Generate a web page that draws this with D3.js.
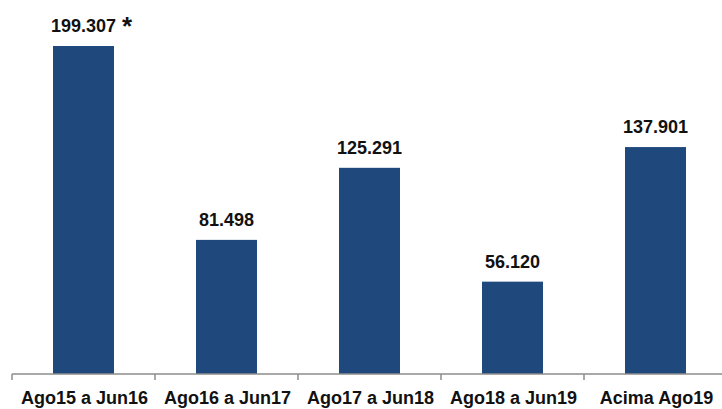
<!DOCTYPE html>
<html>
<head>
<meta charset="utf-8">
<script src="https://cdn.jsdelivr.net/npm/d3@7"></script>
<style>
  body { margin: 0; background: #fff; }
  svg { display: block; }
</style>
</head>
<body>
<div id="chart"></div>
<script>
// chart data
const categories = ["Ago15 a Jun16", "Ago16 a Jun17", "Ago17 a Jun18", "Ago18 a Jun19", "Acima Ago19"];
const values = [199.307, 81.498, 125.291, 56.120, 137.901];
const valueLabels = ["199.307", "81.498", "125.291", "56.120", "137.901"];
const labelMarks = ["*", "", "", "", ""];

const width = 722, height = 409;
const baseY = 374;

const svg = d3.select("#chart").append("svg")
    .attr("width", width)
    .attr("height", height)
    .style("font-family", "'Liberation Sans', Arial, Helvetica, sans-serif");

// band scale - last band runs past the right edge like the original
const x = d3.scaleBand()
    .domain(categories)
    .range([12, 727])
    .paddingInner(0)
    .paddingOuter(0);

const y = d3.scaleLinear()
    .domain([0, 199.307])
    .range([baseY, 46]);

const barW = 61;

// bars
svg.append("g")
    .selectAll("rect")
    .data(values)
    .enter().append("rect")
    .attr("x", (d, i) => x(categories[i]) + x.bandwidth() / 2 - barW / 2)
    .attr("y", d => y(d))
    .attr("width", barW)
    .attr("height", d => baseY - y(d))
    .attr("fill", "#1f497d");

// value labels
const vl = svg.append("g")
    .attr("text-anchor", "middle")
    .style("font-weight", "bold")
    .style("font-size", "18px")
    .attr("fill", "#111")
    .selectAll("text")
    .data(values)
    .enter().append("text")
    .attr("x", (d, i) => x(categories[i]) + x.bandwidth() / 2 + (labelMarks[i] ? 8 : 0))
    .attr("y", d => y(d) - 14);

vl.append("tspan").text((d, i) => valueLabels[i]);
vl.filter((d, i) => labelMarks[i])
    .append("tspan")
    .attr("dx", 6)
    .style("font-size", "26px")
    .attr("dy", 3)
    .text((d, i) => labelMarks[i]);

// x axis with ticks at band boundaries
const axis = svg.append("g").attr("stroke", "#8c8c8c").attr("stroke-width", 1.5);
axis.append("line")
    .attr("x1", x.range()[0]).attr("x2", width)
    .attr("y1", baseY).attr("y2", baseY);
axis.selectAll(".tick")
    .data(categories)
    .enter().append("line")
    .attr("class", "tick")
    .attr("x1", d => x(d)).attr("x2", d => x(d))
    .attr("y1", baseY).attr("y2", baseY + 6);

// category labels
svg.append("g")
    .attr("text-anchor", "middle")
    .style("font-weight", "bold")
    .style("font-size", "18px")
    .attr("fill", "#111")
    .selectAll("text")
    .data(categories)
    .enter().append("text")
    .attr("x", d => x(d) + x.bandwidth() / 2 + 1)
    .attr("y", 404)
    .text(d => d);
</script>
</body>
</html>
